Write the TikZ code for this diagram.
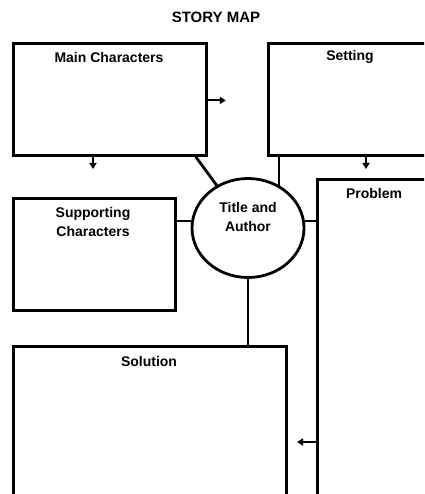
\documentclass[tikz,border=0pt]{standalone}
\usepackage{fontspec}
\setmainfont{Liberation Sans}
\usetikzlibrary{shapes.geometric,arrows.meta}
\begin{document}
\begin{tikzpicture}[x=1pt,y=-1pt,
  box/.style={draw,line width=2.8pt,rectangle,anchor=north west,inner sep=0pt},
  lbl/.style={font=\bfseries\fontsize{14}{19.5}\selectfont,align=center,inner sep=0pt},
  conn/.style={line width=2.8pt},
  arr/.style={line width=2.2pt,-{Triangle[length=6pt,width=7pt]}}]
\useasboundingbox (0,0) rectangle (424,494);
\clip (0,0) rectangle (424,494);
\node[lbl,font=\bfseries\fontsize{15}{18}\selectfont] (title) at (216,17) {STORY MAP};
\node[box,minimum width=193pt,minimum height=112pt] (mc) at (12,42) {};
\node[lbl] (mct) at (109,57) {Main Characters};
\node[box,minimum width=180pt,minimum height=112pt] (set) at (267,42) {};
\node[lbl] (sett) at (350,57) {Setting};
\node[box,minimum width=162pt,minimum height=112pt] (sc) at (12,197) {};
\node[lbl] (sct) at (93,222) {Supporting\\Characters};
\node[box,minimum width=130pt,minimum height=340pt] (pr) at (316,178) {};
\node[lbl] (prt) at (374,193) {Problem};
\node[box,minimum width=273pt,minimum height=170pt] (so) at (12,345) {};
\node[lbl] (sot) at (149,361) {Solution};
\node[draw,line width=2.8pt,ellipse,minimum width=112pt,minimum height=99pt,inner sep=0pt] (ell) at (248,228) {};
\node[lbl] (ellt) at (248,217) {Title and\\Author};
% connectors
\coordinate (mcdiag) at ([xshift=-12pt]mc.south east);
\draw[conn] (mcdiag) -- (ell);
\coordinate (setv) at ([xshift=12pt]set.south west);
\draw[conn] (setv) -- (setv |- ell.53);
\draw[conn] (ell.173) -- (ell.173 -| sc.east);
\draw[conn] (ell.7) -- (ell.7 -| pr.west);
\draw[conn] (ell.south) -- (ell.south |- so.north);
% arrows
\coordinate (a1) at ([xshift=18pt]mc.east);
\draw[arr] ([yshift=-1pt]mc.east) -- ([yshift=-1pt]a1);
\coordinate (a2s) at (93,157);
\coordinate (a2e) at (93,169);
\draw[arr] (a2s) -- (a2e);
\coordinate (a3s) at (366,157);
\coordinate (a3e) at (366,169);
\draw[arr] (a3s) -- (a3e);
\coordinate (a4) at (297,442);
\draw[arr] (pr.west |- a4) -- (a4);
\end{tikzpicture}
\end{document}
